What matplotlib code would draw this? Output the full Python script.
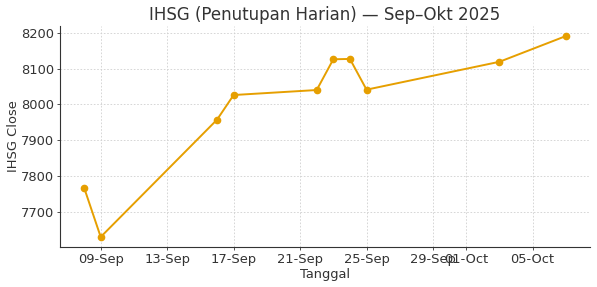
import matplotlib
matplotlib.use("Agg")
import matplotlib.pyplot as plt
import matplotlib.dates as mdates
import pandas as pd

dates = ["2025-09-08", "2025-09-09", "2025-09-16", "2025-09-17", "2025-09-22",
         "2025-09-23", "2025-09-24", "2025-09-25", "2025-10-03", "2025-10-07"]
closes = [7767, 7629, 7957, 8026, 8040, 8126, 8127, 8041, 8119, 8191]

x = pd.to_datetime(dates)

W, H = 597, 287
fig = plt.figure(figsize=(W / 100, H / 100), dpi=100)
ax = fig.add_axes([60 / W, 1 - 247 / H, (590 - 60) / W, (247 - 26) / H])
ax.plot(x, closes, color="#E69F00", marker="o", markersize=4.5, linewidth=1.4)
ax.set_title("IHSG (Penutupan Harian) — Sep–Okt 2025", fontsize=12, color="#333333", pad=4)
ax.set_xlabel("Tanggal", fontsize=9.4, color="#333333", labelpad=1.5)
ax.set_ylabel("IHSG Close", fontsize=9.4, color="#333333", labelpad=1)
ax.xaxis.set_major_locator(mdates.DayLocator(bymonthday=[1, 5, 9, 13, 17, 21, 25, 29]))
ax.xaxis.set_major_formatter(mdates.DateFormatter("%d-%b"))
ax.grid(True, linestyle=(0, (2, 2)), color="#d0d0d0", linewidth=0.6)
ax.spines["top"].set_visible(False)
ax.spines["right"].set_visible(False)
for s in ("left", "bottom"):
    ax.spines[s].set_linewidth(0.8)
    ax.spines[s].set_color("#333333")
ax.tick_params(labelsize=9.4, colors="#333333", length=2.5, pad=1.5, width=0.6)
fig.savefig("out.png", dpi=100)
